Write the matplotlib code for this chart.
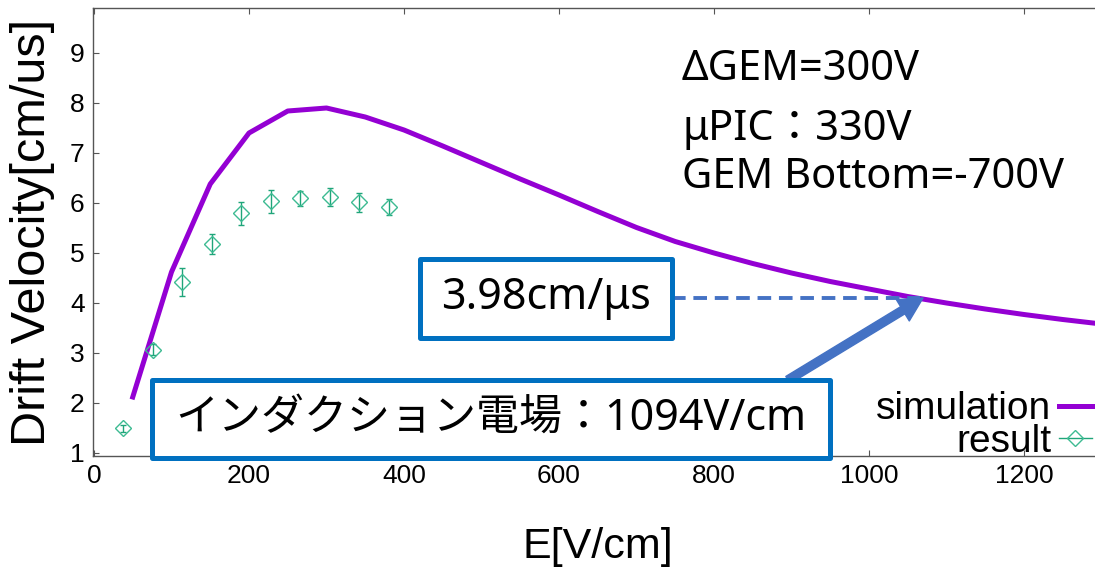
import matplotlib
matplotlib.use("Agg")
import matplotlib.pyplot as plt
from matplotlib.lines import Line2D
from matplotlib.patches import FancyBboxPatch

# simulation curve
sim_E = [50, 100, 150, 200, 250, 300, 350, 400, 450, 500, 550, 600, 650,
         700, 750, 800, 850, 900, 950, 1000, 1050, 1100, 1150, 1200, 1250, 1300]
sim_v = [2.12, 4.62, 6.38, 7.40, 7.84, 7.90, 7.72, 7.46, 7.14, 6.81, 6.48, 6.16, 5.83,
         5.51, 5.23, 5.00, 4.79, 4.60, 4.43, 4.28, 4.13, 4.00, 3.88, 3.77, 3.67, 3.58]

# measured drift velocity
res_E = [38, 76, 114, 152, 190, 228, 266, 304, 342, 380]
res_v = [1.50, 3.07, 4.42, 5.19, 5.80, 6.04, 6.10, 6.12, 6.02, 5.92]
res_err = [0.07, 0.11, 0.28, 0.20, 0.23, 0.23, 0.15, 0.18, 0.19, 0.16]

x_ticks = [0, 200, 400, 600, 800, 1000, 1200]
y_ticks = [1, 2, 3, 4, 5, 6, 7, 8, 9]

conditions = ["ΔGEM=300V", "μPIC：330V", "GEM Bottom=-700V"]
velocity_note = "3.98cm/μs"
field_note = "インダクション電場：1094V/cm"

W, H = 1095, 573
purple = "#9400D3"
green = "#1fa57a"
blue = "#0070C0"
arrow_blue = "#4472C4"

plt.rcParams['font.family'] = ['Liberation Sans', 'DejaVu Sans']

fig = plt.figure(figsize=(W / 100, H / 100), dpi=100)
ax = fig.add_axes([93 / W, 117 / H, (1179 - 93) / W, 448 / H])

ax.plot(sim_E, sim_v, color=purple, lw=3.6, solid_joinstyle='round', zorder=3)
ax.errorbar(res_E, res_v, yerr=res_err, fmt='D', mfc='none', mec='#3dbb92', ms=8, mew=1.0,
            ecolor=green, elinewidth=1.0, capsize=2, capthick=1.0, zorder=4)

ax.set_xlim(-1.3, 1400)
ax.set_ylim(0.94, 9.9)
ax.set_xticks(x_ticks)
ax.set_yticks(y_ticks)
ax.tick_params(direction='in', length=4, width=0.8, color='#555555', top=True, right=True,
               labelsize=19, pad=6)
for s in ax.spines.values():
    s.set_color('#555555')
    s.set_linewidth(1.0)

ax.set_xlabel("E[V/cm]", fontsize=31)
ax.xaxis.set_label_coords((598 - 93) / 1086, -(547 - 456) / 448)
ax.xaxis.label.set_va('center')
ax.set_ylabel("Drift Velocity[cm/us]", fontsize=35)
ax.yaxis.set_label_coords(-(93 - 33) / 1086, 0.5)
ax.yaxis.label.set_va('center')

handles = [Line2D([], [], color=purple, lw=3.6),
           Line2D([], [], color=green, lw=1.0, marker='D', mfc='none', mec='#3dbb92', ms=8)]
ax.legend(handles, ["simulation", "result"], loc='lower right', markerfirst=False,
          frameon=False, prop={'size': 28},
          handlelength=0.85, handletextpad=0.2, labelspacing=-0.08, borderpad=0,
          borderaxespad=0, bbox_to_anchor=(1092 / W, 113 / H), bbox_transform=fig.transFigure)

note_font = ['Noto Sans', 'Noto Sans CJK JP', 'DejaVu Sans']

# condition text in the upper right
for txt, y in zip(conditions, [80, 140, 188]):
    fig.text(682 / W, 1 - y / H, txt, fontsize=30, family=note_font, va='baseline', ha='left')

# boxed notes
for (x0, y0, x1, y1), txt in [((420, 259, 672, 338), velocity_note),
                              ((152, 380, 830, 458), field_note)]:
    fig.add_artist(FancyBboxPatch((x0 / W, 1 - y1 / H), (x1 - x0) / W, (y1 - y0) / H,
                                  boxstyle='square,pad=0', transform=fig.transFigure,
                                  fc='white', ec=blue, lw=3.6, joinstyle='round', zorder=10))
    fig.text((x0 + x1) / 2 / W, 1 - (y0 + y1) / 2 / H, txt, fontsize=31, family=note_font,
             ha='center', va='center', zorder=11)

# dashed guide and arrow
fig.add_artist(Line2D([672 / W, 920 / W], [1 - 298 / H, 1 - 298 / H], transform=fig.transFigure,
                      color=arrow_blue, lw=2.8, linestyle=(0, (3.5, 2)), zorder=9))
ax.annotate('', xy=(923, H - 298), xytext=(788, H - 380), xycoords='figure pixels',
            textcoords='figure pixels', zorder=12,
            arrowprops=dict(arrowstyle='simple,head_length=0.85,head_width=0.9,tail_width=0.3',
                            mutation_scale=20, color=arrow_blue, shrinkA=0, shrinkB=0))

fig.savefig("out.png", dpi=100)
